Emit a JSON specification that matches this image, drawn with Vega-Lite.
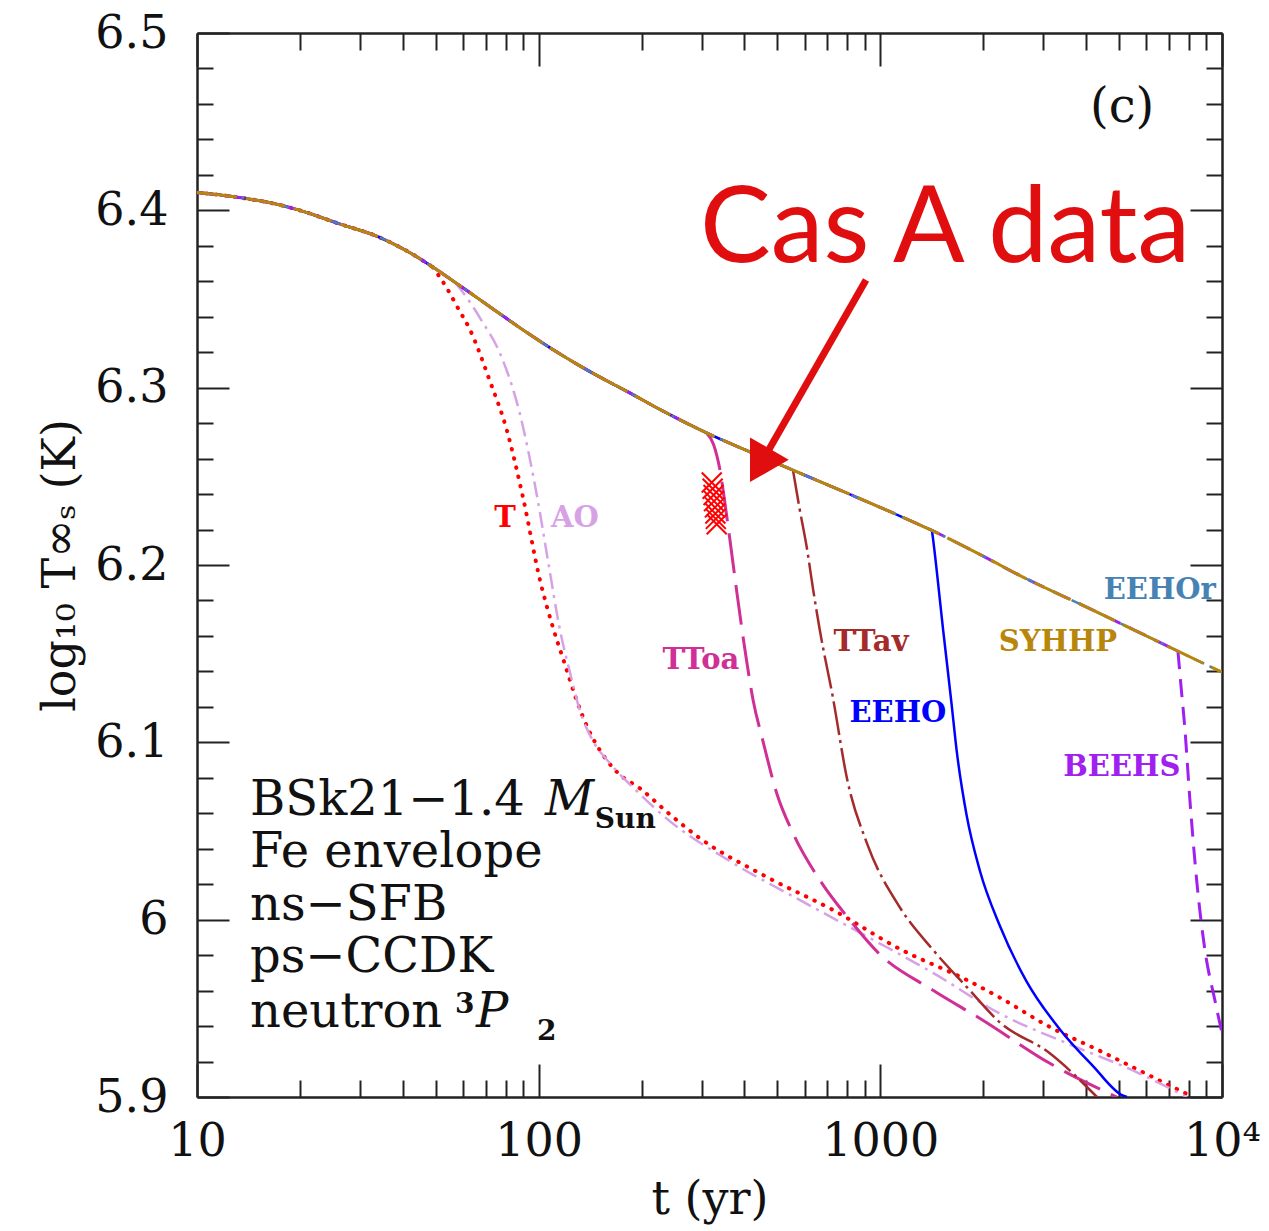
{
  "$schema": "https://vega.github.io/schema/vega-lite/v6.json",
  "width": 1025,
  "height": 1064,
  "autosize": {"type": "none"},
  "padding": {"left": 197, "top": 33, "right": 47, "bottom": 134},
  "background": "white",
  "config": {
    "view": {"stroke": null},
    "line": {"interpolate": "monotone"},
    "axis": {
      "grid": false,
      "labelFont": "DejaVu Serif",
      "labelFontSize": 46,
      "labelColor": "#111",
      "tickColor": "#222",
      "tickWidth": 2,
      "domainColor": "#222",
      "domainWidth": 2.5,
      "titleFont": "DejaVu Serif",
      "titleFontSize": 46,
      "titleFontWeight": "normal",
      "titleColor": "#111"
    }
  },
  "datasets": {
    "main": [
      {"t": 10, "v": 6.41}, {"t": 13, "v": 6.4075}, {"t": 17.5, "v": 6.403}, {"t": 20, "v": 6.4},
      {"t": 26, "v": 6.3925}, {"t": 34, "v": 6.385}, {"t": 42, "v": 6.3761}, {"t": 49, "v": 6.368},
      {"t": 57, "v": 6.3593}, {"t": 67, "v": 6.3499}, {"t": 80, "v": 6.3394}, {"t": 94, "v": 6.3301},
      {"t": 110, "v": 6.3215}, {"t": 132, "v": 6.3123}, {"t": 155, "v": 6.3048}, {"t": 179, "v": 6.2985},
      {"t": 230, "v": 6.287}, {"t": 310, "v": 6.2745}, {"t": 420, "v": 6.2634}, {"t": 555, "v": 6.2535},
      {"t": 800, "v": 6.2405}, {"t": 1100, "v": 6.229}, {"t": 1416, "v": 6.2195}, {"t": 2000, "v": 6.205},
      {"t": 2565, "v": 6.194}, {"t": 4000, "v": 6.1764}, {"t": 5500, "v": 6.1636}, {"t": 7430, "v": 6.1514},
      {"t": 10000, "v": 6.1396}
    ],
    "dep": [
      {"s": "T", "t": 49, "v": 6.368}, {"s": "T", "t": 53.9, "v": 6.356}, {"s": "T", "t": 58, "v": 6.345},
      {"s": "T", "t": 63, "v": 6.3325}, {"s": "T", "t": 71.9, "v": 6.304}, {"s": "T", "t": 80.7, "v": 6.276},
      {"s": "T", "t": 90, "v": 6.238}, {"s": "T", "t": 100.9, "v": 6.1915}, {"s": "T", "t": 110, "v": 6.165},
      {"s": "T", "t": 119, "v": 6.1447}, {"s": "T", "t": 129, "v": 6.124}, {"s": "T", "t": 140, "v": 6.107},
      {"s": "T", "t": 151, "v": 6.0956}, {"s": "T", "t": 170, "v": 6.083}, {"s": "T", "t": 198, "v": 6.074},
      {"s": "T", "t": 240, "v": 6.06}, {"s": "T", "t": 296, "v": 6.046}, {"s": "T", "t": 466, "v": 6.024},
      {"s": "T", "t": 726, "v": 6.0055}, {"s": "T", "t": 1140, "v": 5.9835}, {"s": "T", "t": 1791, "v": 5.966},
      {"s": "T", "t": 2240, "v": 5.956}, {"s": "T", "t": 3133, "v": 5.9395}, {"s": "T", "t": 4395, "v": 5.926},
      {"s": "T", "t": 6152, "v": 5.912}, {"s": "T", "t": 8222, "v": 5.9},

      {"s": "AO", "t": 57, "v": 6.3593}, {"s": "AO", "t": 62, "v": 6.35}, {"s": "AO", "t": 68, "v": 6.338},
      {"s": "AO", "t": 77, "v": 6.3195}, {"s": "AO", "t": 88, "v": 6.2857}, {"s": "AO", "t": 99, "v": 6.2383},
      {"s": "AO", "t": 107, "v": 6.2}, {"s": "AO", "t": 115, "v": 6.165}, {"s": "AO", "t": 124, "v": 6.138},
      {"s": "AO", "t": 132, "v": 6.118}, {"s": "AO", "t": 145, "v": 6.1}, {"s": "AO", "t": 162, "v": 6.088},
      {"s": "AO", "t": 195, "v": 6.072}, {"s": "AO", "t": 237, "v": 6.057}, {"s": "AO", "t": 370, "v": 6.032},
      {"s": "AO", "t": 582, "v": 6.011}, {"s": "AO", "t": 914, "v": 5.9905}, {"s": "AO", "t": 1426, "v": 5.97},
      {"s": "AO", "t": 2240, "v": 5.947}, {"s": "AO", "t": 3516, "v": 5.9303}, {"s": "AO", "t": 5483, "v": 5.915},
      {"s": "AO", "t": 7888, "v": 5.9},

      {"s": "TToa", "t": 310, "v": 6.2745}, {"s": "TToa", "t": 325, "v": 6.268}, {"s": "TToa", "t": 339, "v": 6.254},
      {"s": "TToa", "t": 352, "v": 6.233}, {"s": "TToa", "t": 363, "v": 6.214}, {"s": "TToa", "t": 380, "v": 6.185},
      {"s": "TToa", "t": 407, "v": 6.1447}, {"s": "TToa", "t": 424, "v": 6.124}, {"s": "TToa", "t": 453, "v": 6.101},
      {"s": "TToa", "t": 498, "v": 6.071}, {"s": "TToa", "t": 555, "v": 6.0488}, {"s": "TToa", "t": 665, "v": 6.0223},
      {"s": "TToa", "t": 815, "v": 5.9997}, {"s": "TToa", "t": 990, "v": 5.981}, {"s": "TToa", "t": 1426, "v": 5.9602},
      {"s": "TToa", "t": 1995, "v": 5.9433}, {"s": "TToa", "t": 3133, "v": 5.919}, {"s": "TToa", "t": 4920, "v": 5.9},

      {"s": "TTav", "t": 555, "v": 6.2535}, {"s": "TTav", "t": 580, "v": 6.232}, {"s": "TTav", "t": 609, "v": 6.21},
      {"s": "TTav", "t": 636, "v": 6.186}, {"s": "TTav", "t": 665, "v": 6.1633}, {"s": "TTav", "t": 726, "v": 6.1255},
      {"s": "TTav", "t": 800, "v": 6.079}, {"s": "TTav", "t": 914, "v": 6.043}, {"s": "TTav", "t": 1140, "v": 6.007},
      {"s": "TTav", "t": 1426, "v": 5.983}, {"s": "TTav", "t": 1791, "v": 5.962}, {"s": "TTav", "t": 2240, "v": 5.942},
      {"s": "TTav", "t": 3133, "v": 5.9247}, {"s": "TTav", "t": 4305, "v": 5.9},

      {"s": "EEHO", "t": 1416, "v": 6.2195}, {"s": "EEHO", "t": 1428, "v": 6.214}, {"s": "EEHO", "t": 1528, "v": 6.1629},
      {"s": "EEHO", "t": 1617, "v": 6.1213}, {"s": "EEHO", "t": 1672, "v": 6.0956}, {"s": "EEHO", "t": 1789, "v": 6.0588},
      {"s": "EEHO", "t": 1956, "v": 6.0276}, {"s": "EEHO", "t": 2239, "v": 5.9964}, {"s": "EEHO", "t": 2681, "v": 5.9651},
      {"s": "EEHO", "t": 3355, "v": 5.9381}, {"s": "EEHO", "t": 4199, "v": 5.9173}, {"s": "EEHO", "t": 5139, "v": 5.9007},
      {"s": "EEHO", "t": 5272, "v": 5.9},

      {"s": "BEEHS", "t": 7430, "v": 6.1514}, {"s": "BEEHS", "t": 7600, "v": 6.13}, {"s": "BEEHS", "t": 7780, "v": 6.1086},
      {"s": "BEEHS", "t": 8055, "v": 6.0674}, {"s": "BEEHS", "t": 8447, "v": 6.0206}, {"s": "BEEHS", "t": 8913, "v": 5.9828},
      {"s": "BEEHS", "t": 9530, "v": 5.9546}, {"s": "BEEHS", "t": 10000, "v": 5.936}
    ],
    "casa": [
      {"t": 321, "v": 6.2465}, {"t": 323, "v": 6.243}, {"t": 325, "v": 6.2395}, {"t": 326, "v": 6.236},
      {"t": 328, "v": 6.2325}, {"t": 329, "v": 6.229}, {"t": 330, "v": 6.226}, {"t": 332, "v": 6.223}
    ],
    "labels": [
      {"s": "T", "t": 79.7, "v": 6.2265}, {"s": "AO", "t": 127.7, "v": 6.2265},
      {"s": "TToa", "t": 298.5, "v": 6.1464}, {"s": "TTav", "t": 939, "v": 6.1565},
      {"s": "EEHO", "t": 1126, "v": 6.1165}, {"s": "SYHHP", "t": 3311, "v": 6.1565},
      {"s": "EEHOr", "t": 6577, "v": 6.1858}, {"s": "BEEHS", "t": 5093, "v": 6.086}
    ],
    "notes": [
      {"t": 14.29, "v": 6.0589, "txt": "BSk21−1.4"},
      {"t": 14.29, "v": 6.0296, "txt": "Fe envelope"},
      {"t": 14.29, "v": 5.9997, "txt": "ns−SFB"},
      {"t": 14.29, "v": 5.9704, "txt": "ps−CCDK"},
      {"t": 14.29, "v": 5.9394, "txt": "neutron"},
      {"t": 4106, "v": 6.4498, "txt": "(c)"}
    ],
    "italic": [
      {"t": 104.3, "v": 6.0589, "txt": "M"},
      {"t": 65.5, "v": 5.9394, "txt": "P"}
    ],
    "small": [
      {"t": 146, "v": 6.0516, "txt": "Sun"},
      {"t": 98.9, "v": 5.932, "txt": "2"},
      {"t": 56.9, "v": 5.9473, "txt": "3"}
    ],
    "casatext": [{"t": 296.5, "v": 6.3708, "txt": "Cas A data"}],
    "arrow": [{"t": 908, "v": 6.3607, "t2": 469, "v2": 6.2642}],
    "head": [{"t": 443.5, "v": 6.2562}]
  },
  "resolve": {"axis": {"x": "independent", "y": "independent"}},
  "layer": [
    {
      "data": {"name": "main"},
      "transform": [{"filter": "datum.t <= 49"}],
      "mark": {"type": "line", "color": "#ff0000", "strokeWidth": 4, "strokeDash": [0.5, 9], "strokeCap": "round", "clip": true},
      "encoding": {
        "x": {"field": "t", "type": "quantitative", "scale": {"type": "log", "domain": [10, 10000], "nice": false},
          "axis": {"orient": "bottom", "values": [10, 100, 1000, 10000], "tickSize": -33, "labelPadding": 55,
            "labelFlush": false, "labelOverlap": false,
            "labelExpr": "datum.value == 10000 ? '10⁴' : format(datum.value, 'd')",
            "title": "t  (yr)", "titlePadding": 13}},
        "y": {"field": "v", "type": "quantitative", "scale": {"domain": [5.9, 6.5], "nice": false, "zero": false},
          "axis": {"orient": "left", "values": [5.9, 6, 6.1, 6.2, 6.3, 6.4, 6.5], "tickSize": -32, "labelPadding": 61,
            "labelFlush": false, "labelOverlap": false,
            "labelExpr": "datum.value == 6 ? '6' : format(datum.value, '.1f')",
            "title": "log₁₀ T∞ₛ  (K)", "titlePadding": 10}}
      }
    },
    {
      "data": {"name": "dep"},
      "transform": [{"filter": "datum.s == 'T'"}],
      "mark": {"type": "line", "color": "#ff0000", "strokeWidth": 4, "strokeDash": [0.5, 9], "strokeCap": "round", "clip": true},
      "encoding": {
        "x": {"field": "t", "type": "quantitative", "scale": {"type": "log", "domain": [10, 10000], "nice": false},
          "axis": {"orient": "bottom", "values": [20, 30, 40, 50, 60, 70, 80, 90, 200, 300, 400, 500, 600, 700, 800, 900, 2000, 3000, 4000, 5000, 6000, 7000, 8000, 9000],
            "tickSize": -17, "labels": false, "domain": false, "title": null}},
        "y": {"field": "v", "type": "quantitative", "scale": {"domain": [5.9, 6.5], "nice": false, "zero": false},
          "axis": {"orient": "left", "values": [5.92, 5.94, 5.96, 5.98, 6.02, 6.04, 6.06, 6.08, 6.12, 6.14, 6.16, 6.18, 6.22, 6.24, 6.26, 6.28, 6.32, 6.34, 6.36, 6.38, 6.42, 6.44, 6.46, 6.48],
            "tickSize": -16, "labels": false, "domain": false, "title": null}}
      }
    },
    {
      "data": {"name": "main"},
      "transform": [{"filter": "datum.t <= 57"}],
      "mark": {"type": "line", "color": "#d7a1e6", "strokeWidth": 2.5, "strokeDash": [16, 6, 3, 6], "clip": true},
      "encoding": {
        "x": {"field": "t", "type": "quantitative", "scale": {"type": "log", "domain": [10, 10000], "nice": false},
          "axis": {"orient": "top", "values": [10, 100, 1000, 10000], "tickSize": -33, "labels": false, "title": null}},
        "y": {"field": "v", "type": "quantitative", "scale": {"domain": [5.9, 6.5], "nice": false, "zero": false},
          "axis": {"orient": "right", "values": [5.9, 6, 6.1, 6.2, 6.3, 6.4, 6.5], "tickSize": -32, "labels": false, "title": null}}
      }
    },
    {
      "data": {"name": "dep"},
      "transform": [{"filter": "datum.s == 'AO'"}],
      "mark": {"type": "line", "color": "#d7a1e6", "strokeWidth": 2.5, "strokeDash": [16, 6, 3, 6], "clip": true},
      "encoding": {
        "x": {"field": "t", "type": "quantitative", "scale": {"type": "log", "domain": [10, 10000], "nice": false},
          "axis": {"orient": "top", "values": [20, 30, 40, 50, 60, 70, 80, 90, 200, 300, 400, 500, 600, 700, 800, 900, 2000, 3000, 4000, 5000, 6000, 7000, 8000, 9000],
            "tickSize": -17, "labels": false, "domain": false, "title": null}},
        "y": {"field": "v", "type": "quantitative", "scale": {"domain": [5.9, 6.5], "nice": false, "zero": false},
          "axis": {"orient": "right", "values": [5.92, 5.94, 5.96, 5.98, 6.02, 6.04, 6.06, 6.08, 6.12, 6.14, 6.16, 6.18, 6.22, 6.24, 6.26, 6.28, 6.32, 6.34, 6.36, 6.38, 6.42, 6.44, 6.46, 6.48],
            "tickSize": -16, "labels": false, "domain": false, "title": null}}
      }
    },
    {
      "data": {"name": "main"},
      "transform": [{"filter": "datum.t <= 310"}],
      "mark": {"type": "line", "color": "#d02f95", "strokeWidth": 3, "strokeDash": [40, 12], "clip": true},
      "encoding": {
        "x": {"field": "t", "type": "quantitative", "scale": {"type": "log", "domain": [10, 10000], "nice": false}, "axis": null},
        "y": {"field": "v", "type": "quantitative", "scale": {"domain": [5.9, 6.5], "nice": false, "zero": false}, "axis": null}
      }
    },
    {
      "data": {"name": "dep"},
      "transform": [{"filter": "datum.s == 'TToa'"}],
      "mark": {"type": "line", "color": "#d02f95", "strokeWidth": 3, "strokeDash": [40, 12], "clip": true},
      "encoding": {
        "x": {"field": "t", "type": "quantitative", "scale": {"type": "log", "domain": [10, 10000], "nice": false}, "axis": null},
        "y": {"field": "v", "type": "quantitative", "scale": {"domain": [5.9, 6.5], "nice": false, "zero": false}, "axis": null}
      }
    },
    {
      "data": {"name": "main"},
      "transform": [{"filter": "datum.t <= 555"}],
      "mark": {"type": "line", "color": "#a52a2a", "strokeWidth": 2.5, "strokeDash": [34, 5, 3, 5], "clip": true},
      "encoding": {
        "x": {"field": "t", "type": "quantitative", "scale": {"type": "log", "domain": [10, 10000], "nice": false}, "axis": null},
        "y": {"field": "v", "type": "quantitative", "scale": {"domain": [5.9, 6.5], "nice": false, "zero": false}, "axis": null}
      }
    },
    {
      "data": {"name": "dep"},
      "transform": [{"filter": "datum.s == 'TTav'"}],
      "mark": {"type": "line", "color": "#a52a2a", "strokeWidth": 2.5, "strokeDash": [34, 5, 3, 5], "clip": true},
      "encoding": {
        "x": {"field": "t", "type": "quantitative", "scale": {"type": "log", "domain": [10, 10000], "nice": false}, "axis": null},
        "y": {"field": "v", "type": "quantitative", "scale": {"domain": [5.9, 6.5], "nice": false, "zero": false}, "axis": null}
      }
    },
    {
      "data": {"name": "main"},
      "transform": [{"filter": "datum.t <= 1416"}],
      "mark": {"type": "line", "color": "#0000ff", "strokeWidth": 2.5, "clip": true},
      "encoding": {
        "x": {"field": "t", "type": "quantitative", "scale": {"type": "log", "domain": [10, 10000], "nice": false}, "axis": null},
        "y": {"field": "v", "type": "quantitative", "scale": {"domain": [5.9, 6.5], "nice": false, "zero": false}, "axis": null}
      }
    },
    {
      "data": {"name": "dep"},
      "transform": [{"filter": "datum.s == 'EEHO'"}],
      "mark": {"type": "line", "color": "#0000ff", "strokeWidth": 2.5, "clip": true},
      "encoding": {
        "x": {"field": "t", "type": "quantitative", "scale": {"type": "log", "domain": [10, 10000], "nice": false}, "axis": null},
        "y": {"field": "v", "type": "quantitative", "scale": {"domain": [5.9, 6.5], "nice": false, "zero": false}, "axis": null}
      }
    },
    {
      "data": {"name": "main"},
      "transform": [{"filter": "datum.t <= 7430"}],
      "mark": {"type": "line", "color": "#a020f0", "strokeWidth": 3, "strokeDash": [18, 10], "clip": true},
      "encoding": {
        "x": {"field": "t", "type": "quantitative", "scale": {"type": "log", "domain": [10, 10000], "nice": false}, "axis": null},
        "y": {"field": "v", "type": "quantitative", "scale": {"domain": [5.9, 6.5], "nice": false, "zero": false}, "axis": null}
      }
    },
    {
      "data": {"name": "dep"},
      "transform": [{"filter": "datum.s == 'BEEHS'"}],
      "mark": {"type": "line", "color": "#a020f0", "strokeWidth": 3, "strokeDash": [18, 10], "clip": true},
      "encoding": {
        "x": {"field": "t", "type": "quantitative", "scale": {"type": "log", "domain": [10, 10000], "nice": false}, "axis": null},
        "y": {"field": "v", "type": "quantitative", "scale": {"domain": [5.9, 6.5], "nice": false, "zero": false}, "axis": null}
      }
    },
    {
      "data": {"name": "main"},
      "mark": {"type": "line", "color": "#4682b4", "strokeWidth": 2.5, "strokeDash": [12, 6, 3, 6], "clip": true},
      "encoding": {
        "x": {"field": "t", "type": "quantitative", "scale": {"type": "log", "domain": [10, 10000], "nice": false}, "axis": null},
        "y": {"field": "v", "type": "quantitative", "scale": {"domain": [5.9, 6.5], "nice": false, "zero": false}, "axis": null}
      }
    },
    {
      "data": {"name": "main"},
      "mark": {"type": "line", "color": "#b8860b", "strokeWidth": 3, "strokeDash": [40, 9], "clip": true},
      "encoding": {
        "x": {"field": "t", "type": "quantitative", "scale": {"type": "log", "domain": [10, 10000], "nice": false}, "axis": null},
        "y": {"field": "v", "type": "quantitative", "scale": {"domain": [5.9, 6.5], "nice": false, "zero": false}, "axis": null}
      }
    },
    {
      "data": {"name": "casa"},
      "mark": {"type": "point", "shape": "M-1,-1L1,1M-1,1L1,-1", "filled": false, "color": "#ff0000", "size": 400, "strokeWidth": 2, "opacity": 1},
      "encoding": {
        "x": {"field": "t", "type": "quantitative", "scale": {"type": "log", "domain": [10, 10000], "nice": false}, "axis": null},
        "y": {"field": "v", "type": "quantitative", "scale": {"domain": [5.9, 6.5], "nice": false, "zero": false}, "axis": null}
      }
    },
    {
      "data": {"name": "labels"},
      "mark": {"type": "text", "font": "DejaVu Serif", "fontSize": 29, "fontWeight": "bold", "align": "center", "baseline": "middle"},
      "encoding": {
        "x": {"field": "t", "type": "quantitative", "scale": {"type": "log", "domain": [10, 10000], "nice": false}, "axis": null},
        "y": {"field": "v", "type": "quantitative", "scale": {"domain": [5.9, 6.5], "nice": false, "zero": false}, "axis": null},
        "text": {"field": "s"},
        "color": {"field": "s", "type": "nominal", "legend": null,
          "scale": {"domain": ["T", "AO", "TToa", "TTav", "EEHO", "SYHHP", "EEHOr", "BEEHS"],
            "range": ["#ff0000", "#d7a1e6", "#d02f95", "#a52a2a", "#0000ff", "#b8860b", "#4682b4", "#a020f0"]}}
      }
    },
    {
      "data": {"name": "notes"},
      "mark": {"type": "text", "font": "DejaVu Serif", "fontSize": 48, "align": "left", "baseline": "alphabetic", "color": "#111"},
      "encoding": {
        "x": {"field": "t", "type": "quantitative", "scale": {"type": "log", "domain": [10, 10000], "nice": false}, "axis": null},
        "y": {"field": "v", "type": "quantitative", "scale": {"domain": [5.9, 6.5], "nice": false, "zero": false}, "axis": null},
        "text": {"field": "txt"}
      }
    },
    {
      "data": {"name": "italic"},
      "mark": {"type": "text", "font": "DejaVu Serif", "fontSize": 48, "fontStyle": "italic", "align": "left", "baseline": "alphabetic", "color": "#111"},
      "encoding": {
        "x": {"field": "t", "type": "quantitative", "scale": {"type": "log", "domain": [10, 10000], "nice": false}, "axis": null},
        "y": {"field": "v", "type": "quantitative", "scale": {"domain": [5.9, 6.5], "nice": false, "zero": false}, "axis": null},
        "text": {"field": "txt"}
      }
    },
    {
      "data": {"name": "small"},
      "mark": {"type": "text", "font": "DejaVu Serif", "fontSize": 28, "fontWeight": "bold", "align": "left", "baseline": "alphabetic", "color": "#111"},
      "encoding": {
        "x": {"field": "t", "type": "quantitative", "scale": {"type": "log", "domain": [10, 10000], "nice": false}, "axis": null},
        "y": {"field": "v", "type": "quantitative", "scale": {"domain": [5.9, 6.5], "nice": false, "zero": false}, "axis": null},
        "text": {"field": "txt"}
      }
    },
    {
      "data": {"name": "casatext"},
      "mark": {"type": "text", "font": "Lato", "fontSize": 106, "align": "left", "baseline": "alphabetic", "color": "#e00e0e"},
      "encoding": {
        "x": {"field": "t", "type": "quantitative", "scale": {"type": "log", "domain": [10, 10000], "nice": false}, "axis": null},
        "y": {"field": "v", "type": "quantitative", "scale": {"domain": [5.9, 6.5], "nice": false, "zero": false}, "axis": null},
        "text": {"field": "txt"}
      }
    },
    {
      "data": {"name": "arrow"},
      "mark": {"type": "rule", "color": "#e00e0e", "strokeWidth": 7},
      "encoding": {
        "x": {"field": "t", "type": "quantitative", "scale": {"type": "log", "domain": [10, 10000], "nice": false}, "axis": null},
        "y": {"field": "v", "type": "quantitative", "scale": {"domain": [5.9, 6.5], "nice": false, "zero": false}, "axis": null},
        "x2": {"field": "t2"},
        "y2": {"field": "v2"}
      }
    },
    {
      "data": {"name": "head"},
      "mark": {"type": "point", "shape": "triangle-down", "filled": true, "color": "#e00e0e", "size": 2000, "angle": 30, "opacity": 1},
      "encoding": {
        "x": {"field": "t", "type": "quantitative", "scale": {"type": "log", "domain": [10, 10000], "nice": false}, "axis": null},
        "y": {"field": "v", "type": "quantitative", "scale": {"domain": [5.9, 6.5], "nice": false, "zero": false}, "axis": null}
      }
    }
  ]
}
